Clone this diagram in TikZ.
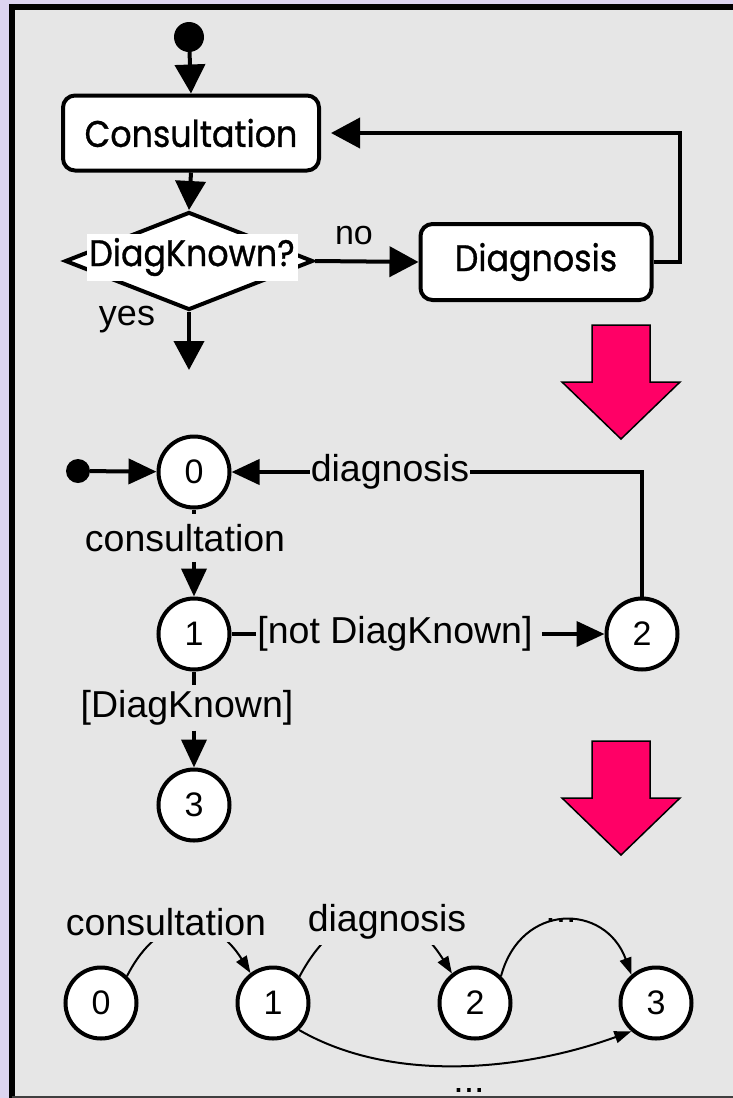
\documentclass[tikz,border=0pt]{standalone}
\usepackage{fontspec}
\setmainfont{Liberation Sans}
\newfontfamily\flowfont[FakeBold=0.8, FakeStretch=0.9]{Poppins}
\usetikzlibrary{arrows.meta,shapes.geometric}
\definecolor{lavender}{RGB}{220,212,240}
\definecolor{panel}{RGB}{230,230,230}
\definecolor{hotpink}{RGB}{255,0,102}

\begin{document}
\begin{tikzpicture}[x=1pt,y=-1pt,
  flowbox/.style={draw, line width=4pt, fill=white, rounded corners=12pt,
    inner sep=0pt, font=\flowfont\fontsize{37}{42}\selectfont},
  flowarrow/.style={line width=4pt, -{Triangle[length=29pt,width=30pt]}},
  stateline/.style={line width=4pt},
  statearrow/.style={line width=4pt, -{Triangle[length=28pt,width=25pt]}},
  thinarrow/.style={line width=2pt, -{Triangle[length=17pt,width=12pt]}},
  state/.style={circle, draw, line width=4pt, fill=white, minimum size=71pt,
    inner sep=0pt, font=\fontsize{34}{38}\selectfont},
  lbl/.style={font=\fontsize{37.5}{42}\selectfont, inner sep=1pt},
  dot/.style={circle, fill=black, inner sep=0pt},
  bigarrow/.style={fill=hotpink, draw=black, line width=1.5pt, line join=miter}
]
\useasboundingbox (0,0) rectangle (733,1098);

% page frame
\fill[lavender] (0,0) rectangle (733,1098);
\fill[panel] (12,7) rectangle (733,1098);
\draw[line width=6pt] (12,1098) -- (12,7) -- (733,7);
\draw[line width=1.5pt, black!75] (12,1097) -- (733,1097);

% ---------- activity diagram ----------
\node[dot, minimum size=30pt] (start) at (189,37) {};
\node[flowbox, minimum width=256pt, minimum height=75pt] (cons) at (191,133) {Consultation};
\node[diamond, draw, line width=4pt, fill=white, inner sep=0pt, aspect=1,
      minimum width=248pt, minimum height=98pt] (dk) at (189,261) {};
\node[fill=white, inner sep=0pt, minimum width=211pt, minimum height=47pt,
      font=\flowfont\fontsize{37}{42}\selectfont] (dkt) at (192,257) {DiagKnown?};
\node[flowbox, minimum width=231pt, minimum height=76pt] (diag) at (536,262) {Diagnosis};
\node[font=\fontsize{34}{40}\selectfont, inner sep=0pt] (no) at (354,236) {no};
\node[font=\fontsize{36}{40}\selectfont, inner sep=0pt] (yes) at (127,320) {yes};
\coordinate (loop) at (680,133);
\coordinate (yesend) at (189,370);

\draw[flowarrow] (start) -- (cons.north);
\draw[flowarrow] (cons.south) -- (dk.north);
\draw[flowarrow] (dk.east) -- (diag.west);
\draw[flowarrow, shorten >=10pt] (diag.east) -| (loop) -- (cons.east);
\draw[flowarrow] (dk.south) -- (yesend);

% transformation arrows
\draw[bigarrow] (592,325) -- (650,325) -- (650,382) -- (680,382) -- (621,439)
  -- (562,382) -- (592,382) -- cycle;
\draw[bigarrow] (592,741) -- (650,741) -- (650,798) -- (680,798) -- (621,855)
  -- (562,798) -- (592,798) -- cycle;

% ---------- state machine ----------
\node[dot, minimum size=24pt] (init) at (78,471) {};
\node[state] (q0) at (194,472) {0};
\node[state] (q1) at (194,634) {1};
\node[state] (q2) at (642,634) {2};
\node[state] (q3) at (194,805) {3};

\node[lbl] (ldiag) at (390,472) {diagnosis};
\node[lbl, inner ysep=10pt] (lcons) at (185,538) {consultation};
\node[lbl] (lnot) at (395,634) {[not DiagKnown]};
\node[lbl, inner ysep=5pt] (lknown) at (187,708) {[DiagKnown]};

\draw[statearrow] (init) -- (q0);
\draw[stateline] (q2.north) |- (ldiag.east);
\draw[statearrow] (ldiag.west) -- (q0.east);
\draw[stateline] (q0.south) -- (q0.south |- lcons.north);
\draw[statearrow] (q1.north |- lcons.south) -- (q1.north);
\draw[stateline] (q1.east) -- (lnot.west);
\draw[statearrow] ([xshift=8pt]lnot.east) -- (q2.west);
\draw[stateline] (q1.south) -- (q1.south |- lknown.north);
\draw[statearrow] (q3.north |- lknown.south) -- (q3.north);

% ---------- unrolled runs ----------
\node[state] (b0) at (101,1003) {0};
\node[state] (b1) at (273,1003) {1};
\node[state] (b2) at (475,1003) {2};
\node[state] (b3) at (656,1003) {3};

\node[lbl, anchor=base] (ldots) at (561,922) {...};
\node[lbl, anchor=base] (bdots) at (469,1092) {...};

\draw[thinarrow] (b0.46) to[out=63, in=122, looseness=1.5] (b1.127);
\draw[thinarrow] (b1.45) to[out=62, in=122, looseness=1.5] (b2.128);
\draw[thinarrow] (b2.46) to[out=75, in=110, looseness=1.5] (b3.131);
\draw[thinarrow] (b1.-46) to[out=-30, in=-160, looseness=0.85] (b3.-131);

\node[lbl, fill=panel, inner ysep=6pt] (bcons) at (166,922) {consultation};
\node[lbl, fill=panel, inner ysep=6pt] (bdiag) at (387,922) {diagnosis};
\end{tikzpicture}
\end{document}
